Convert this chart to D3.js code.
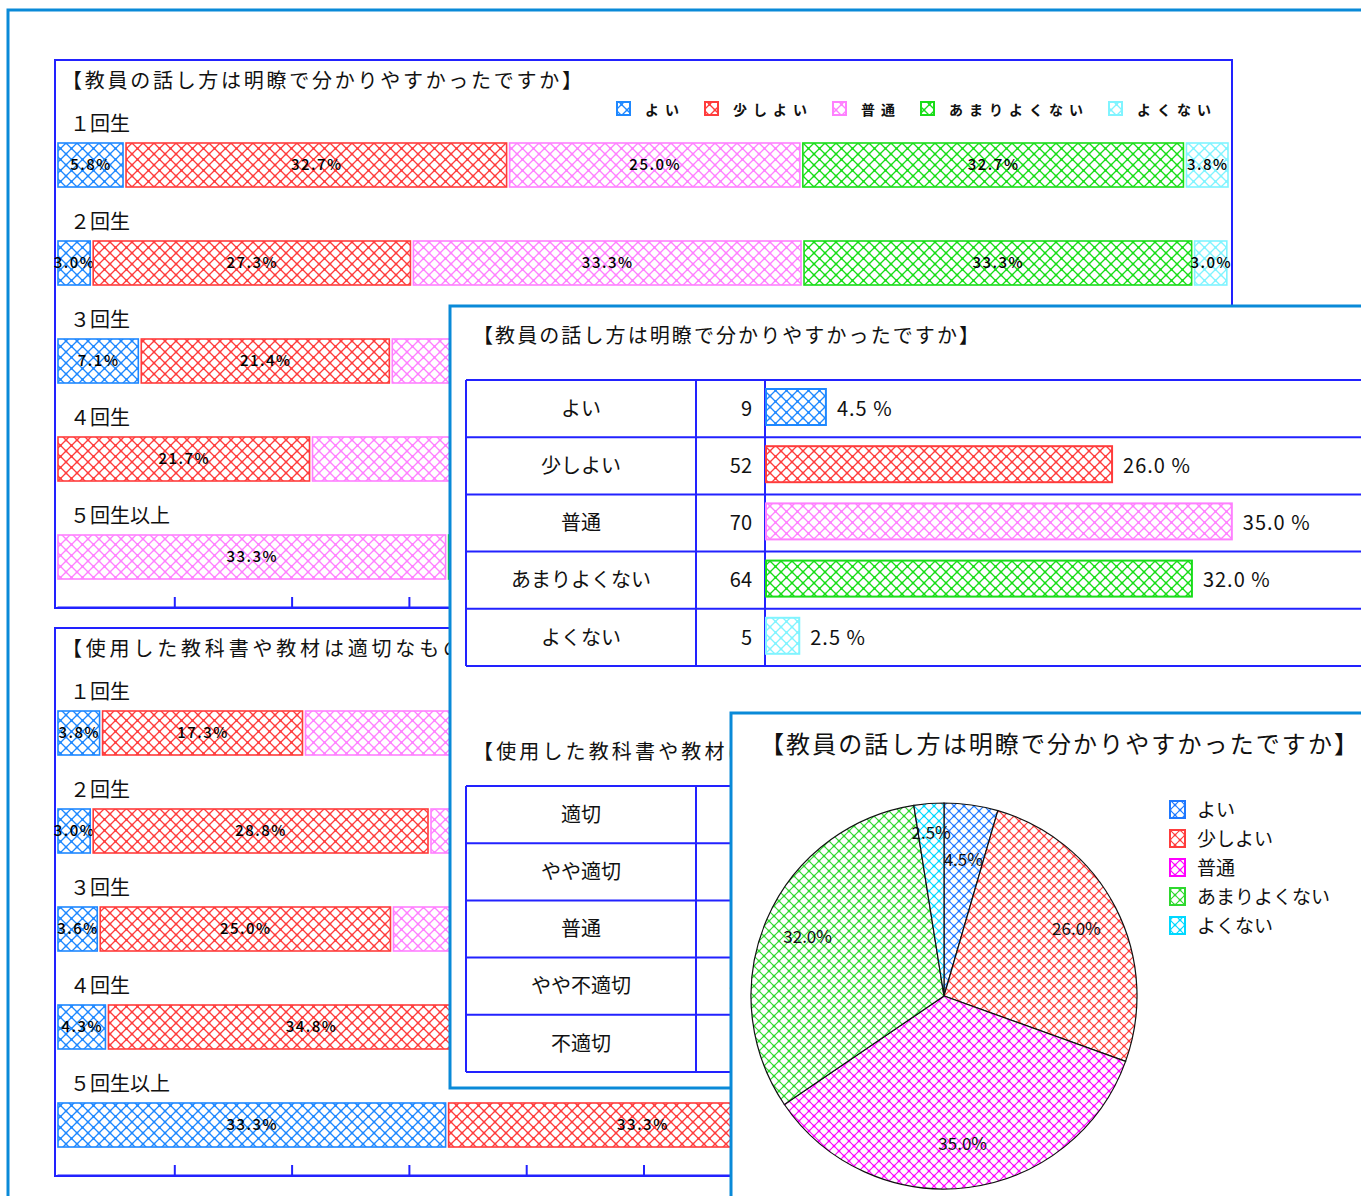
<!DOCTYPE html>
<html>
<head>
<meta charset="utf-8">
<script src="https://cdn.jsdelivr.net/npm/d3@7/dist/d3.min.js"></script>
<style>
body{margin:0;background:#fff;}
text{font-family:"Noto Sans CJK JP","Noto Sans CJK SC",sans-serif;fill:#111;}
</style>
</head>
<body>
<svg id="chart" width="1361" height="1196"></svg>
<script>
// question 1 answers
const answers1 = ["よい","少しよい","普通","あまりよくない","よくない"];
// question 2 answers
const answers2 = ["適切","やや適切","普通","やや不適切","不適切"];
const years = ["１回生","２回生","３回生","４回生","５回生以上"];

// stacked percent per year, question 1
const q1Yoi     = [5.8, 3.0, 7.1, 0, 0];
const q1Sukoshi = [32.7, 27.3, 21.4, 21.7, 0];
const q1Futsu   = [25.0, 33.3, 35.7, 34.8, 33.3];
const q1Amari   = [32.7, 33.3, 28.6, 34.8, 33.3];
const q1Yokunai = [3.8, 3.0, 7.1, 8.7, 33.3];

// stacked percent per year, question 2
const q2Tekisetsu = [3.8, 3.0, 3.6, 4.3, 33.3];
const q2Yaya      = [17.3, 28.8, 25.0, 34.8, 33.3];
const q2Futsu     = [44.2, 45.5, 42.9, 39.1, 33.4];
const q2YayaFu    = [26.9, 18.2, 21.4, 17.4, 0];
const q2Fu        = [7.8, 4.5, 7.1, 4.4, 0];

// totals table
const q1Counts = [9, 52, 70, 64, 5];
const q1Pct    = [4.5, 26.0, 35.0, 32.0, 2.5];
const q2Counts = [13, 58, 62, 45, 22];
const q2Pct    = [6.5, 29.0, 31.0, 22.5, 11.0];

const title1 = "【教員の話し方は明瞭で分かりやすかったですか】";
const title2 = "【使用した教科書や教材は適切なものでしたか】";
const tickVals = [10,20,30,40,50,60,70,80,90];

const barColors = ["#1e88ff","#ff3c3c","#ff80ff","#18dd18","#80f4ff"];
const pieColors = ["#1e78ff","#ff3c3c","#ff00ff","#2ed82e","#00d8ff"];
const winBlue = "#0a8ad8", boxBlue = "#2222ff";

const svg = d3.select("#chart");
const defs = svg.append("defs");

function hatch(id, color, size, sw){
    let h = size/2;
    let p = defs.append("pattern").attr("id",id).attr("patternUnits","userSpaceOnUse")
        .attr("width",size).attr("height",size);
    p.append("rect").attr("width",size).attr("height",size).attr("fill","#fff");
    p.append("path").attr("d","M0,0L"+size+","+size+"M"+size+",0L0,"+size)
        .attr("stroke",color).attr("stroke-width",sw).attr("fill","none");
    p.append("rect").attr("x",h-1.2).attr("y",h-1.2).attr("width",2.4).attr("height",2.4).attr("fill",color);
    [[0,0],[size,0],[0,size],[size,size]].forEach(function(c){
        p.append("rect").attr("x",c[0]-1.2).attr("y",c[1]-1.2).attr("width",2.4).attr("height",2.4).attr("fill",color);
    });
}
barColors.forEach((c,i)=>hatch("hb"+i,c,11,1.3));
pieColors.forEach((c,i)=>hatch("hp"+i,c,10,1.1));

// outer window
svg.append("rect").attr("x",8).attr("y",10).attr("width",1400).attr("height",1300)
    .attr("fill","#fff").attr("stroke",winBlue).attr("stroke-width",3);

function drawStacked(top, title, keys, series, showLegend){
    let g = svg.append("g");
    let rows = years.map(function(y,i){
        let r = {year:y};
        keys.forEach(function(k,j){ r[k] = series[j][i]; });
        return r;
    });
    let stack = d3.stack().keys(keys)(rows);
    let x = d3.scaleLinear().domain([0,100]).range([57,1230]);
    let y = d3.scaleBand().domain(years).range([top+45, top+535]);

    g.append("rect").attr("x",55).attr("y",top).attr("width",1177).attr("height",548)
        .attr("fill","#fff").attr("stroke",boxBlue).attr("stroke-width",2);
    g.append("text").attr("x",62).attr("y",top+21).attr("dy","0.35em")
        .attr("font-size",20).attr("textLength",520).text(title);

    g.selectAll(".yl").data(years).enter().append("text")
        .attr("x",70).attr("y",d=>y(d)+19).attr("dy","0.36em").attr("font-size",20).text(d=>d);

    stack.forEach(function(layer,j){
        let seg = g.selectAll(".s"+j).data(layer.filter(d=>d[1]-d[0]>0)).enter();
        seg.append("rect")
            .attr("x",d=>x(d[0])+1).attr("y",d=>y(d.data.year)+38)
            .attr("width",d=>Math.max(1,x(d[1])-x(d[0])-3)).attr("height",44)
            .attr("fill","url(#hb"+j+")").attr("stroke",barColors[j]).attr("stroke-width",1.6);
        seg.append("text")
            .attr("x",d=>(x(d[0])+x(d[1]))/2).attr("y",d=>y(d.data.year)+60).attr("dy","0.36em")
            .attr("text-anchor","middle").attr("font-size",15).attr("font-weight",500)
            .attr("letter-spacing",1.5).style("fill","#000")
            .text(d=>(d[1]-d[0]).toFixed(1)+"%");
    });

    let axis = d3.axisBottom(x).tickValues(tickVals).tickSize(-10).tickFormat("").tickSizeOuter(0);
    let ag = g.append("g").attr("transform","translate(0,"+(top+547)+")").call(axis);
    ag.selectAll("path,line").attr("stroke",boxBlue).attr("stroke-width",2);

    if(showLegend){
        let lx = 617;
        keys.forEach(function(k,j){
            g.append("rect").attr("x",lx).attr("y",top+42).attr("width",13).attr("height",13)
                .attr("fill","url(#hb"+j+")").attr("stroke",barColors[j]).attr("stroke-width",2);
            let t = g.append("text").attr("x",lx+28).attr("y",top+50).attr("dy","0.36em")
                .attr("font-size",14).attr("font-weight","bold").attr("letter-spacing",6).text(k);
            lx = lx + 28 + t.node().getComputedTextLength() + 20;
        });
    }
}
drawStacked(60, title1, answers1, [q1Yoi,q1Sukoshi,q1Futsu,q1Amari,q1Yokunai], true);
drawStacked(628, title2, answers2, [q2Tekisetsu,q2Yaya,q2Futsu,q2YayaFu,q2Fu], false);

// window 2: totals tables
svg.append("rect").attr("x",450).attr("y",306).attr("width",1000).attr("height",782)
    .attr("fill","#fff").attr("stroke",winBlue).attr("stroke-width",3);

function drawTable(top, titleY, title, labels, counts, pct){
    let g = svg.append("g");
    g.append("text").attr("x",473).attr("y",titleY).attr("dy","0.35em")
        .attr("font-size",20).attr("textLength",506).text(title);
    let y = d3.scaleBand().domain(labels).range([top, top+286]);
    let x = d3.scaleLinear().domain([0,100]).range([766, 766+1331]);
    // grid
    g.selectAll(".hl").data(d3.range(labels.length+1)).enter().append("line")
        .attr("x1",466).attr("x2",1400).attr("y1",i=>top+i*y.step()).attr("y2",i=>top+i*y.step())
        .attr("stroke",boxBlue).attr("stroke-width",2);
    [466,696,765].forEach(function(cx){
        g.append("line").attr("x1",cx).attr("x2",cx).attr("y1",top).attr("y2",top+286)
            .attr("stroke",boxBlue).attr("stroke-width",2);
    });
    let row = g.selectAll(".row").data(labels).enter().append("g");
    row.append("text").attr("x",581).attr("y",d=>y(d)+y.bandwidth()/2).attr("dy","0.36em")
        .attr("text-anchor","middle").attr("font-size",20).text(d=>d);
    row.append("text").attr("x",752).attr("y",d=>y(d)+y.bandwidth()/2).attr("dy","0.36em")
        .attr("text-anchor","end").attr("font-size",20).text((d,i)=>counts[i]);
    row.append("rect").attr("x",x(0)).attr("y",d=>y(d)+9)
        .attr("width",(d,i)=>x(pct[i])-x(0)).attr("height",36)
        .attr("fill",(d,i)=>"url(#hb"+i+")").attr("stroke",(d,i)=>barColors[i]).attr("stroke-width",2);
    row.append("text").attr("x",(d,i)=>x(pct[i])+11).attr("y",d=>y(d)+y.bandwidth()/2).attr("dy","0.36em")
        .attr("font-size",20).attr("letter-spacing",1).text((d,i)=>pct[i].toFixed(1)+" %");
}
drawTable(380, 336, title1, answers1, q1Counts, q1Pct);
drawTable(786, 752, title2, answers2, q2Counts, q2Pct);

// window 3: pie
svg.append("rect").attr("x",731).attr("y",713).attr("width",700).attr("height",600)
    .attr("fill","#fff").attr("stroke",winBlue).attr("stroke-width",3);
svg.append("text").attr("x",760).attr("y",745).attr("dy","0.35em")
    .attr("font-size",24).attr("textLength",598).text(title1);

let pg = svg.append("g").attr("transform","translate(944,996)");
let pie = d3.pie().sort(null).value(d=>d)(q1Pct);
let R = 193;
let arc = d3.arc().innerRadius(0).outerRadius(R);
pg.selectAll(".sl").data(pie).enter().append("path")
    .attr("d",arc).attr("fill",(d,i)=>"url(#hp"+i+")").attr("stroke","#111").attr("stroke-width",1.2);
pg.selectAll(".pl").data(pie).enter().append("text")
    .attr("transform",function(d){
        let r = d.data < 3 ? 0.85*R : (d.data < 10 ? 0.71*R : 0.77*R);
        let c = d3.arc().innerRadius(r).outerRadius(r).centroid(d);
        return "translate("+c+")";
    })
    .attr("dy","0.36em").attr("text-anchor","middle").attr("font-size",17)
    .text(d=>d.data.toFixed(1)+"%");

let lg = svg.append("g");
answers1.forEach(function(k,i){
    let ly = 810 + i*29;
    lg.append("rect").attr("x",1170).attr("y",ly-9).attr("width",15).attr("height",17)
        .attr("fill","url(#hp"+i+")").attr("stroke",pieColors[i]).attr("stroke-width",2);
    lg.append("text").attr("x",1197).attr("y",ly).attr("dy","0.36em").attr("font-size",19).text(k);
});
</script>
</body>
</html>
